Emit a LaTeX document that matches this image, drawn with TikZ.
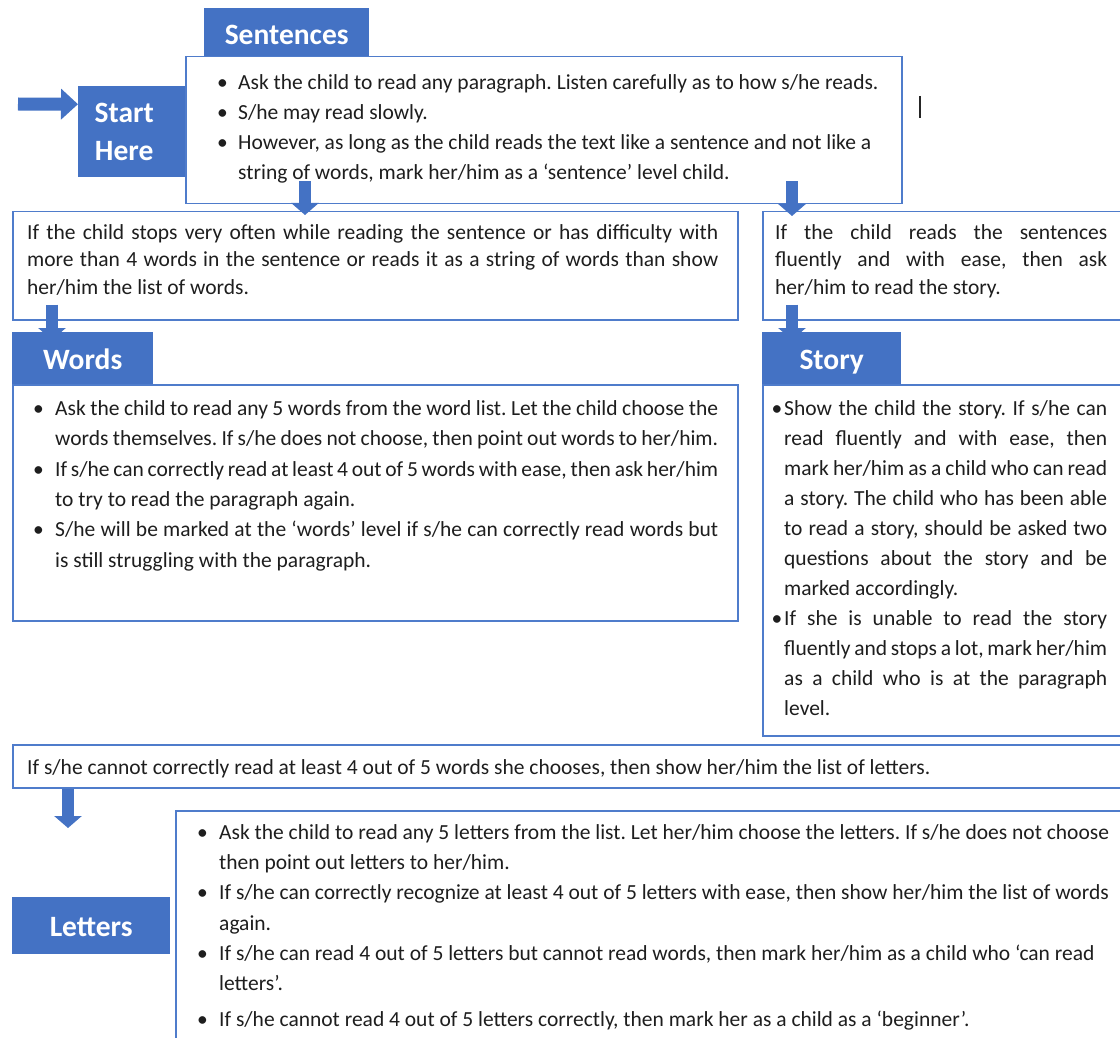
\documentclass[tikz,border=0pt]{standalone}
\usepackage{fontspec}
\setmainfont{Carlito}
\usetikzlibrary{arrows.meta}
\definecolor{hdr}{HTML}{4472C4}
\definecolor{bdr}{HTML}{4F7CCB}
\definecolor{txt}{HTML}{1E1E1E}
\newcommand\topst{\rule{0pt}{17pt}}
\newcommand\bul[2]{\noindent\llap{\makebox[#1][l]{\textbullet}}#2}
\frenchspacing
\tikzset{
  hdrbox/.style={fill=hdr, draw=none, text=white, inner sep=0pt,
    font=\fontsize{29.5}{38}\selectfont\bfseries},
  hdrtext/.style={text height=22pt, text depth=0pt},
  txtbox/.style={draw=bdr, line width=1.5pt, fill=white, inner sep=0pt, anchor=north west},
  body/.style={anchor=north west, inner sep=0pt, text=txt,
    font=\fontsize{21.5}{30}\selectfont\frenchspacing},
  bigarrow/.style={draw=hdr, line width=12pt, -{Triangle[width=27pt,length=12pt]}},
  startarrow/.style={draw=hdr, line width=13pt, -{Triangle[width=30pt,length=17pt]}},
}
\begin{document}
\begin{tikzpicture}[x=1pt,y=-1pt]
\useasboundingbox (0,0) rectangle (1120,1038);
\clip (0,0) rectangle (1120,1038);
\fill[white] (0,0) rectangle (1120,1038);

% Start Here
\node[hdrbox, anchor=north west, minimum width=110, minimum height=91, align=center]
  (start) at (78,86) {Start\hspace*{18pt}\\Here\hspace*{18pt}};
\coordinate (in) at (18,104);
\draw[startarrow] (in) -- ([yshift=27.5pt]start.west);

% Sentences
\node[hdrbox, hdrtext, anchor=north west, minimum width=165, minimum height=50]
  (senthdr) at (204,8) {Sentences};
\node[txtbox, minimum width=716, minimum height=147] (sent) at (185,56) {};
\node[body, text width=700, align=flush left] (senttext) at (238,72) {%
\bul{21pt}{\topst Ask the child to read any paragraph. Listen carefully as to how s/he reads.}\par
\bul{21pt}{S/he may read slowly.}\par
\bul{21pt}{However, as long as the child reads the text like a sentence and not like a\newline string of words, mark her/him as a ‘sentence’ level child.}\par};
\draw[line width=1.4pt, black!85] (920,96) -- (920,118);

% second row
\node[txtbox, minimum width=725, minimum height=108] (stopbox) at (12,211) {};
\node[body, text width=691, align=justify, font=\fontsize{21.5}{27.5}\selectfont] (stoptext) at (27,222) {%
\noindent\topst If the child stops very often while reading the sentence or has difficulty with\linebreak
more than 4 words in the sentence or reads it as a string of words than show\linebreak
her/him the list of words.\par};
\node[txtbox, minimum width=400, minimum height=108] (easebox) at (762,211) {};
\node[body, text width=332, align=justify, font=\fontsize{21.5}{27.5}\selectfont] (easetext) at (775,222) {%
\noindent\topst If the child reads the sentences\linebreak
fluently and with ease, then ask\linebreak
her/him to read the story.\par};

\draw[bigarrow] ([xshift=120pt,yshift=23pt]sent.south west) -- ([xshift=293pt,yshift=-4pt]stopbox.north west);
\draw[bigarrow] ([xshift=607pt,yshift=23pt]sent.south west) -- ([xshift=30pt,yshift=-5pt]easebox.north west);

% arrows into headers (tips hidden)
\coordinate (wtip) at (52,340);
\coordinate (stip) at (792,340);
\draw[bigarrow] ([xshift=40pt,yshift=16pt]stopbox.south west) -- (wtip);
\draw[bigarrow] ([xshift=30pt,yshift=16pt]easebox.south west) -- (stip);

% Words
\node[hdrbox, hdrtext, anchor=north west, minimum width=141, minimum height=52] (wordshdr) at (12,332) {Words};
\node[txtbox, minimum width=725, minimum height=236] (words) at (12,384) {};
\node[body, text width=663, align=justify, font=\fontsize{21.5}{30.4}\selectfont] (wordstext) at (55,398) {%
\bul{22pt}{\topst Ask the child to read any 5 words from the word list. Let the child choose the\linebreak words themselves. If s/he does not choose, then point out words to her/him.}\par
\bul{22pt}{If s/he can correctly read at least 4 out of 5 words with ease, then ask her/him\linebreak to try to read the paragraph again.}\par
\bul{22pt}{S/he will be marked at the ‘words’ level if s/he can correctly read words but\linebreak is still struggling with the paragraph.}\par};

% Story
\node[hdrbox, hdrtext, anchor=north west, minimum width=139, minimum height=52] (storyhdr) at (762,332) {Story};
\node[txtbox, minimum width=400, minimum height=351] (story) at (762,384) {};
\node[body, text width=323, align=justify] (storytext) at (784,398) {%
\bul{12.5pt}{\topst Show the child the story. If s/he can\linebreak
read fluently and with ease, then\linebreak
mark her/him as a child who can read\linebreak
a story. The child who has been able\linebreak
to read a story, should be asked two\linebreak
questions about the story and be\linebreak
marked accordingly.}\par
\bul{12.5pt}{If she is unable to read the story\linebreak
fluently and stops a lot, mark her/him\linebreak
as a child who is at the paragraph\linebreak
level.}\par};

% bottom row
\node[txtbox, minimum width=1150, minimum height=43] (nolist) at (12,744) {};
\node[body] (nolisttext) at (27,757) {\topst If s/he cannot correctly read at least 4 out of 5 words she chooses, then show her/him the list of letters.};
\coordinate (ltip) at (68,828);
\draw[bigarrow] ([xshift=56pt]nolist.south west) -- (ltip);

% Letters
\node[hdrbox, hdrtext, anchor=north west, minimum width=158, minimum height=57] (lettershdr) at (12,897) {Letters};
\node[txtbox, minimum width=1000, minimum height=300] (letters) at (175,810) {};
\node[body, text width=1000, align=flush left, font=\fontsize{21.5}{30.3}\selectfont] (letterstext) at (219,822) {%
\bul{22pt}{\topst Ask the child to read any 5 letters from the list. Let her/him choose the letters. If s/he does not choose\newline then point out letters to her/him.}\par
\bul{22pt}{If s/he can correctly recognize at least 4 out of 5 letters with ease, then show her/him the list of words\newline again.}\par
\bul{22pt}{If s/he can read 4 out of 5 letters but cannot read words, then mark her/him as a child who ‘can read\newline letters’.}\par
\vspace{5pt}
\bul{22pt}{If s/he cannot read 4 out of 5 letters correctly, then mark her as a child as a ‘beginner’.}\par};
\end{tikzpicture}
\end{document}
